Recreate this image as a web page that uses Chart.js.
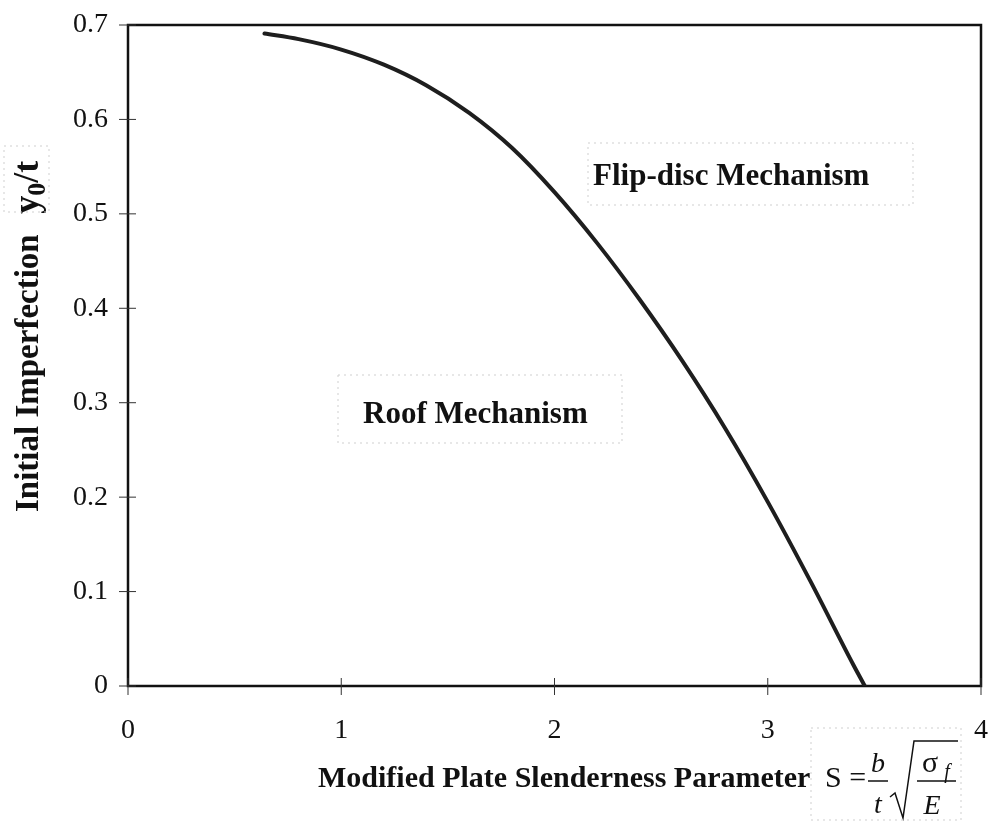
<!DOCTYPE html>
<html lang="en">
<head>
    <meta charset="UTF-8">
    <title>Initial Imperfection vs Modified Plate Slenderness</title>
    <script src="https://cdn.jsdelivr.net/npm/chart.js@4.4.0/dist/chart.umd.js"></script>
    <style>
        body { margin: 0; background: #fff; }
        #wrap { width: 996px; height: 827px; position: relative; }
    </style>
</head>
<body>
    <div id="wrap"><canvas id="chart" width="996" height="827"></canvas></div>

    <script>
        // values
        const slenderness = [0.64, 0.80, 1.00, 1.20, 1.40, 1.60, 1.80, 2.00, 2.20, 2.40, 2.60, 2.80, 3.00, 3.20, 3.40, 3.455];
        const imperfection = [0.691, 0.685, 0.674, 0.658, 0.636, 0.607, 0.570, 0.523, 0.469, 0.409, 0.344, 0.273, 0.195, 0.111, 0.023, 0.0];
        const xTicks = [0, 1, 2, 3, 4];
        const yTicks = [0, 0.1, 0.2, 0.3, 0.4, 0.5, 0.6, 0.7];
        const regionLabels = ['Flip-disc Mechanism', 'Roof Mechanism'];

        const serif = '"Liberation Serif", "DejaVu Serif", serif';

        // frame around the plot area plus crossing tick marks
        const framePlugin = {
            id: 'frame',
            beforeDatasetsDraw(chart) {
                const { ctx, chartArea: a, scales } = chart;
                ctx.save();
                ctx.strokeStyle = '#111';
                ctx.lineWidth = 2.5;
                ctx.strokeRect(a.left, a.top, a.right - a.left, a.bottom - a.top);
                ctx.lineWidth = 1;
                ctx.strokeStyle = '#333';
                yTicks.forEach(v => {
                    const y = scales.y.getPixelForValue(v);
                    ctx.beginPath(); ctx.moveTo(a.left - 9, y); ctx.lineTo(a.left + 8, y); ctx.stroke();
                });
                xTicks.forEach(v => {
                    const x = scales.x.getPixelForValue(v);
                    ctx.beginPath(); ctx.moveTo(x, a.bottom - 8); ctx.lineTo(x, a.bottom + 9); ctx.stroke();
                });
                ctx.restore();
            }
        };

        function dottedBox(ctx, x, y, w, h) {
            ctx.save();
            ctx.strokeStyle = '#cfcfcf';
            ctx.lineWidth = 1;
            ctx.setLineDash([2, 4]);
            ctx.strokeRect(x, y, w, h);
            ctx.restore();
        }

        // axis titles and the two region labels
        const textPlugin = {
            id: 'texts',
            afterDraw(chart) {
                const { ctx } = chart;
                ctx.save();
                ctx.fillStyle = '#111';
                ctx.textBaseline = 'alphabetic';

                // region labels
                ctx.font = 'bold 31px ' + serif;
                ctx.textAlign = 'left';
                dottedBox(ctx, 588, 143, 325, 62);
                ctx.fillText(regionLabels[0], 593, 185);
                dottedBox(ctx, 338, 375, 284, 68);
                ctx.fillText(regionLabels[1], 363, 423);

                // y title, rotated
                ctx.save();
                ctx.translate(38, 512);
                ctx.rotate(-Math.PI / 2);
                ctx.font = 'bold 33px ' + serif;
                const t1 = 'Initial Imperfection  ';
                ctx.fillText(t1, 0, 0);
                let x = ctx.measureText(t1).width + 4;
                ctx.font = 'bold 36px ' + serif;
                ctx.fillText('y', x, 0);
                x += ctx.measureText('y').width;
                ctx.font = 'bold 26px ' + serif;
                ctx.fillText('0', x, 7);
                x += ctx.measureText('0').width;
                ctx.font = 'bold 36px ' + serif;
                ctx.fillText('/t', x, 0);
                ctx.restore();
                dottedBox(ctx, 4, 146, 45, 66);

                // x title
                ctx.font = 'bold 30px ' + serif;
                ctx.fillText('Modified Plate Slenderness Parameter', 318, 787);
                ctx.font = '30px ' + serif;
                ctx.fillText('S =', 825, 787);
                // b / t fraction
                ctx.lineWidth = 1.5;
                ctx.strokeStyle = '#111';
                ctx.beginPath(); ctx.moveTo(868, 781); ctx.lineTo(888, 781); ctx.stroke();
                ctx.font = 'italic 28px ' + serif;
                ctx.textAlign = 'center';
                ctx.fillText('b', 878, 772);
                ctx.fillText('t', 878, 813);
                // square root of sigma_f / E
                ctx.beginPath();
                ctx.moveTo(890, 797); ctx.lineTo(895, 793); ctx.lineTo(903, 818);
                ctx.lineTo(914, 741); ctx.lineTo(958, 741);
                ctx.stroke();
                ctx.beginPath(); ctx.moveTo(917, 781); ctx.lineTo(956, 781); ctx.stroke();
                ctx.font = '30px ' + serif;
                ctx.fillText('σ', 930, 772);
                ctx.font = 'italic 20px ' + serif;
                ctx.fillText('f', 947, 778);
                ctx.font = 'italic 28px ' + serif;
                ctx.fillText('E', 932, 814);
                ctx.textAlign = 'left';
                dottedBox(ctx, 811, 728, 150, 92);
                ctx.restore();
            }
        };

        new Chart(document.getElementById('chart'), {
            type: 'scatter',
            data: {
                datasets: [{
                    data: slenderness.map((s, i) => ({ x: s, y: imperfection[i] })),
                    showLine: true,
                    borderColor: '#1e1e1e',
                    borderWidth: 4,
                    borderCapStyle: 'round',
                    pointRadius: 0,
                    cubicInterpolationMode: 'monotone'
                }]
            },
            options: {
                responsive: false,
                animation: false,
                devicePixelRatio: 1,
                layout: { padding: { top: 25, right: 15, left: 0, bottom: 0 } },
                plugins: { legend: { display: false }, tooltip: { enabled: false } },
                scales: {
                    x: {
                        type: 'linear', min: 0, max: 4,
                        afterBuildTicks: s => { s.ticks = xTicks.map(v => ({ value: v })); },
                        afterFit: s => { s.height = 141; s.paddingLeft = 0; s.paddingRight = 0; },
                        grid: { display: false, drawTicks: false },
                        border: { display: false },
                        ticks: { color: '#111', padding: 28, font: { family: serif, size: 28 } }
                    },
                    y: {
                        type: 'linear', min: 0, max: 0.7,
                        afterBuildTicks: s => { s.ticks = yTicks.map(v => ({ value: v })); },
                        afterFit: s => { s.width = 128; s.paddingTop = 0; s.paddingBottom = 0; },
                        grid: { display: false, drawTicks: false },
                        border: { display: false },
                        ticks: {
                            color: '#111', padding: 20, font: { family: serif, size: 28 },
                            callback: v => v === 0 ? '0' : v.toFixed(1)
                        }
                    }
                }
            },
            plugins: [framePlugin, textPlugin]
        });
    </script>
</body>
</html>
